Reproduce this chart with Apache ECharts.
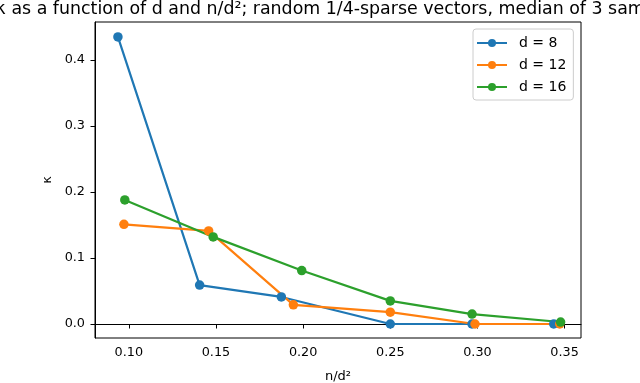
<!DOCTYPE html>
<html><head><meta charset="utf-8">
<script src="https://cdn.jsdelivr.net/npm/echarts@6/dist/echarts.min.js"></script>
<style>html,body{margin:0;padding:0;background:#fff}#c{width:640px;height:383px}</style>
</head><body><div id="c"></div>
<script>
const titleText = 'κ as a function of d and n/d²; random 1/4-sparse vectors, median of 3 samples';
const seriesNames = ['d = 8', 'd = 12', 'd = 16'];
const xD8 = [0.09375, 0.140625, 0.1875, 0.25, 0.296875, 0.34375];
const yD8 = [0.435, 0.059, 0.041, 0.0, 0.0, 0.0];
const xD12 = [0.0972, 0.1458, 0.1944, 0.25, 0.2986, 0.3472];
const yD12 = [0.151, 0.141, 0.029, 0.018, 0.0, 0.0];
const xD16 = [0.0977, 0.1484, 0.1992, 0.25, 0.2969, 0.3477];
const yD16 = [0.188, 0.132, 0.081, 0.035, 0.015, 0.003];
const xTicks = [0.10, 0.15, 0.20, 0.25, 0.30, 0.35];
const yTicks = [0.0, 0.1, 0.2, 0.3, 0.4];
const colors = ['#1f77b4', '#ff7f0e', '#2ca02c'];

const pair = (xs, ys) => xs.map((x, i) => [x, ys[i]]);
const font = 'DejaVu Sans';
const chart = echarts.init(document.getElementById('c'), null, {renderer: 'canvas'});
const mk = (name, xs, ys, c) => ({
  name, type: 'line', data: pair(xs, ys), color: c,
  symbol: 'circle', symbolSize: 9.5,
  lineStyle: {width: 2.2, color: c}, itemStyle: {color: c},
  animation: false
});
chart.setOption({
  animation: false,
  textStyle: {fontFamily: font},
  title: {
    text: titleText, left: 338, textAlign: 'center', top: 0, padding: 0,
    textStyle: {fontFamily: font, fontSize: 17.4, fontWeight: 'normal', color: '#000', lineHeight: 18}
  },
  grid: {left: 95, right: 59, top: 22, bottom: 45, show: true, borderColor: '#000', borderWidth: 1,
    containLabel: false, outerBoundsMode: 'none'},
  legend: {
    orient: 'vertical', left: 473, top: 29, padding: [7, 7, 6, 3],
    itemWidth: 30, itemHeight: 10, itemGap: 8,
    borderColor: '#ccc', borderWidth: 1, borderRadius: 3,
    textStyle: {fontFamily: font, fontSize: 14, color: '#000', padding: [0, 0, 0, 7]},
    data: seriesNames
  },
  xAxis: {
    type: 'value', min: 0.0806, max: 0.3594,
    name: 'n/d²', nameLocation: 'middle', nameGap: 32,
    nameTextStyle: {fontFamily: font, fontSize: 13, color: '#000'},
    axisLine: {show: true, lineStyle: {color: '#000'}},
    axisTick: {show: true, length: 4.5, lineStyle: {color: '#000'}, customValues: xTicks},
    axisLabel: {customValues: xTicks, fontFamily: font, fontSize: 12.8, color: '#000', margin: 8,
      formatter: v => v.toFixed(2)},
    splitLine: {show: false}
  },
  yAxis: {
    type: 'value', min: -0.0212, max: 0.4576,
    name: 'κ', nameLocation: 'middle', nameGap: 37,
    nameTextStyle: {fontFamily: font, fontSize: 13, color: '#000'},
    axisLine: {show: true, lineStyle: {color: '#000'}},
    axisTick: {show: true, length: 4.5, lineStyle: {color: '#000'}, customValues: yTicks},
    axisLabel: {customValues: yTicks, fontFamily: font, fontSize: 12.8, color: '#000', margin: 10,
      formatter: v => v.toFixed(1)},
    splitLine: {show: false}
  },
  series: [
    mk(seriesNames[0], xD8, yD8, colors[0]),
    mk(seriesNames[1], xD12, yD12, colors[1]),
    mk(seriesNames[2], xD16, yD16, colors[2])
  ]
});
</script></body></html>
